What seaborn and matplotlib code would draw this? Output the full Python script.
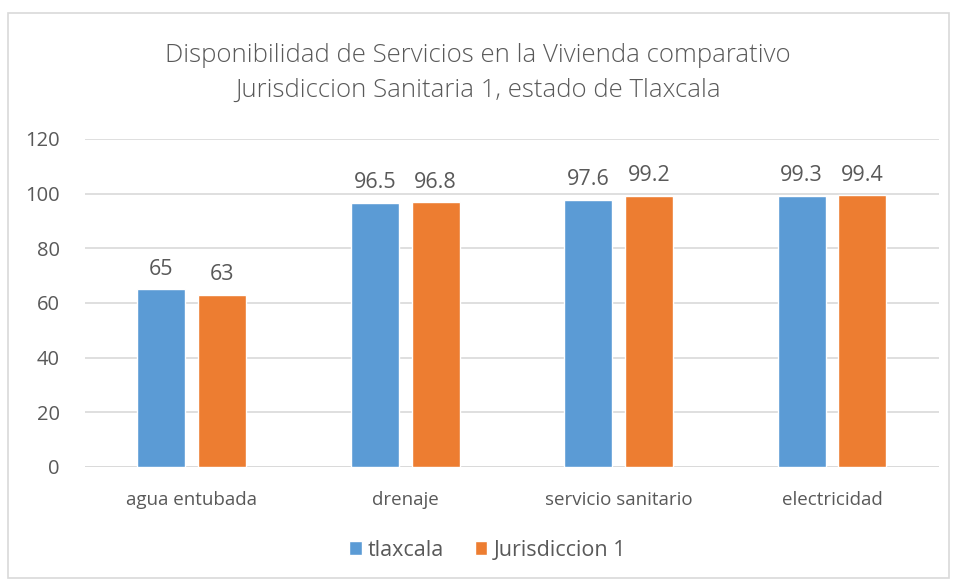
import matplotlib
matplotlib.use("Agg")
import matplotlib.pyplot as plt
import seaborn as sns
import pandas as pd
from matplotlib.patches import Rectangle

# data
categories = ["agua entubada", "drenaje", "servicio sanitario", "electricidad"]
tlaxcala = [65, 96.5, 97.6, 99.3]
jurisdiccion = [63, 96.8, 99.2, 99.4]
series_names = ["tlaxcala", "Jurisdiccion 1"]
colors = ["#5B9BD5", "#ED7D31"]
title = "Disponibilidad de Servicios en la Vivienda comparativo\nJurisdiccion Sanitaria 1, estado de Tlaxcala"

df = pd.DataFrame({
    "categoria": categories * 2,
    "valor": tlaxcala + jurisdiccion,
    "serie": [series_names[0]] * 4 + [series_names[1]] * 4,
})

sns.set_style("white")
plt.rcParams["font.family"] = ["Open Sans", "DejaVu Sans"]
text_color = "#595959"
grid_color = "#D9D9D9"

fig = plt.figure(figsize=(9.56, 5.83), dpi=100)
ax = fig.add_axes([0.0889, 0.199, 0.893, 0.5626])

sns.barplot(data=df, x="categoria", y="valor", hue="serie", palette=colors,
            width=0.57, gap=0.21, ax=ax, saturation=1, legend=True)

ax.set_ylim(0, 120)
ax.set_yticks(range(0, 121, 20))
ax.set_xlim(-0.5, 3.5)
ax.yaxis.grid(True, color=grid_color, linewidth=1.2)
ax.set_axisbelow(True)
for s in ax.spines.values():
    s.set_visible(False)
ax.axhline(0, color=grid_color, linewidth=1.2, zorder=0)
ax.set_xlabel("")
ax.set_ylabel("")
ax.tick_params(axis="x", length=0, labelsize=13.5, colors=text_color, pad=17)
ax.tick_params(axis="y", length=0, labelsize=14.5, colors=text_color, pad=18)

for cont in ax.containers:
    ax.bar_label(cont, labels=[f"{v:g}" for v in cont.datavalues],
                 padding=7, fontsize=15.5, color=text_color)

fig.text(0.5, 0.875, title, ha="center", va="center", fontsize=18.5,
         color=text_color, linespacing=1.48, fontweight="light")

handles, labels = ax.get_legend_handles_labels()
ax.legend(handles, labels, loc="center", bbox_to_anchor=(0.51, 0.056),
          bbox_transform=fig.transFigure, ncol=2, frameon=False,
          fontsize=15.5, labelcolor=text_color, handlelength=0.6,
          handleheight=0.6, handletextpad=0.3, columnspacing=1.4)

fig.patches.append(Rectangle((8 / 956, 1 - 578 / 583), 941 / 956, 565 / 583,
                             transform=fig.transFigure, fill=False,
                             edgecolor=grid_color, linewidth=1.2))

fig.savefig("out.png", dpi=100, facecolor="white")
